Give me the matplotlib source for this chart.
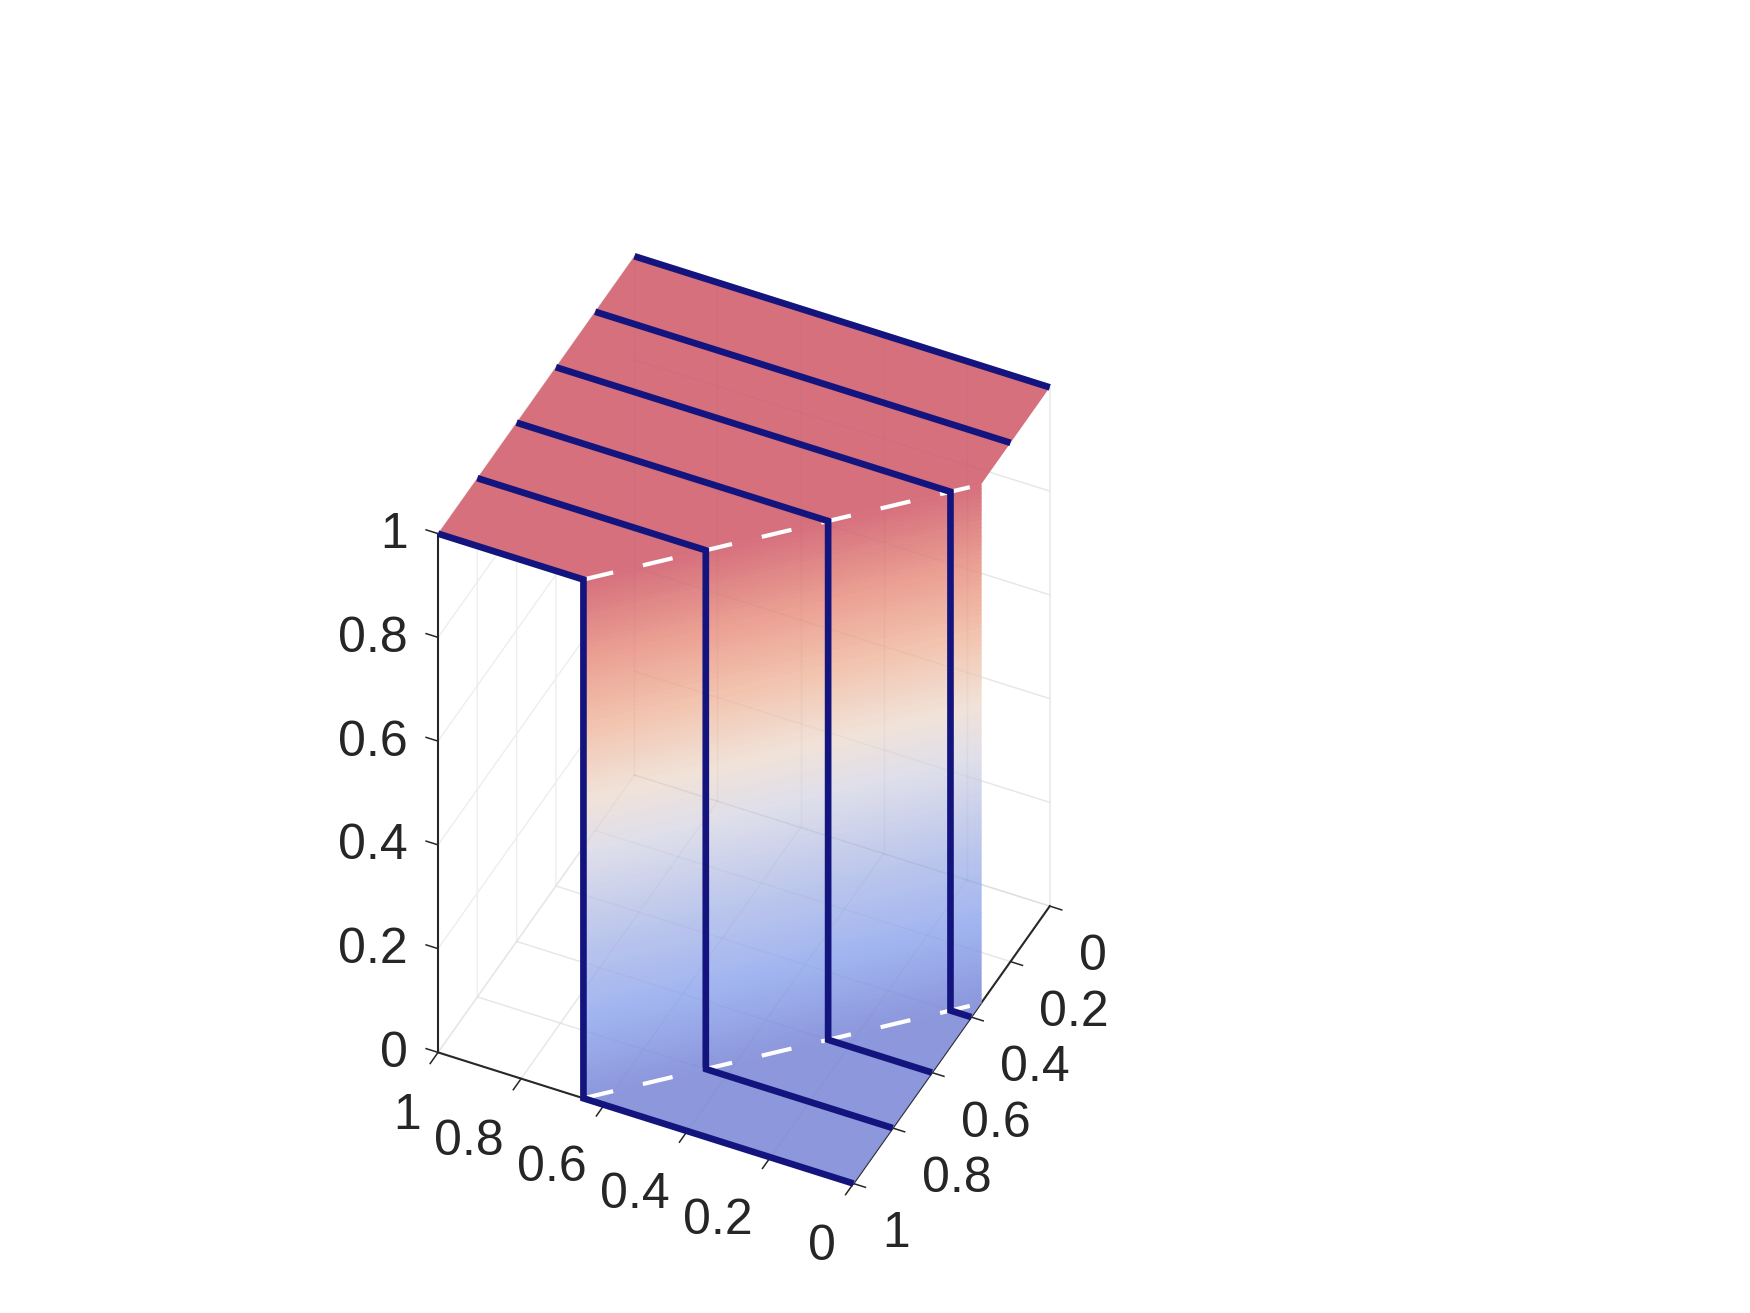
import numpy as np
import matplotlib
matplotlib.use("Agg")
import matplotlib.pyplot as plt
from matplotlib.colors import LinearSegmentedColormap
from mpl_toolkits.mplot3d.art3d import Poly3DCollection

plt.rcParams['font.family'] = ['Liberation Sans', 'DejaVu Sans']
plt.rcParams['lines.scale_dashes'] = False

# data
line_t = [0.0, 0.2, 0.4, 0.6, 0.8, 1.0]
line_shock_x = [None, None, 0.05, 0.25, 0.45, 0.65]
shock_x = [0.0, 0.65]
shock_t = [0.35, 1.0]
ticks = [0, 0.2, 0.4, 0.6, 0.8, 1]
tick_labels = ['0', '0.2', '0.4', '0.6', '0.8', '1']
color_levels = [0.0, 0.15, 0.3, 0.48, 0.58, 0.72, 0.85, 1.0]
color_values = ['#8C97DC', '#A0B4F0', '#BBC6EC', '#E0DFEA', '#F1E2D8', '#F2C3AE', '#EBA093', '#D6707D']

W, H = 1750, 1313
fig = plt.figure(figsize=(W/100, H/100), dpi=100, facecolor='white')
L = 1400
cx, cy = 743.9, 1313 - 719.9
left, bottom = cx - 0.5135*L, cy - 0.5135*L
ax = fig.add_axes([left/W, bottom/H, L/W, L/H], projection='3d', proj_type='ortho')
ax.computed_zorder = False
ax.set_box_aspect((1, 1, 1.517), zoom=925/L)
ax.view_init(elev=41.9, azim=115.3)
ax.set_xlim(0, 1); ax.set_ylim(0, 1); ax.set_zlim(0, 1)
ax.patch.set_alpha(0)

dark = '#262626'
cmap = LinearSegmentedColormap.from_list('cw', list(zip(color_levels, color_values)))

sx, st = shock_x, shock_t
top = [[(1, 0, 1), (0, 0, 1), (sx[0], st[0], 1), (sx[1], st[1], 1), (1, 1, 1)]]
floor = [[(sx[0], st[0], 0), (0, 1, 0), (sx[1], st[1], 0)]]
ax.add_collection3d(Poly3DCollection(top, facecolors=[cmap(1.0)], edgecolors='none', zorder=5))
ax.add_collection3d(Poly3DCollection(floor, facecolors=[cmap(0.0)], edgecolors='none', zorder=5))
edges = np.linspace(0, 1, 121)
quads = [[(sx[0], st[0], a), (sx[1], st[1], a), (sx[1], st[1], b), (sx[0], st[0], b)] for a, b in zip(edges[:-1], edges[1:])]
cols = [cmap((a+b)/2) for a, b in zip(edges[:-1], edges[1:])]
ax.add_collection3d(Poly3DCollection(quads, facecolors=cols, edgecolors=cols, linewidths=0.8, zorder=5))

# back-wall grid showing faintly through the translucent surface
see = dict(color='#606060', alpha=0.05, lw=1.0, zorder=5.5)
for v in ticks:
    ax.plot([v, v], [0, 0], [0, 1], **see)
    ax.plot([0, 1], [0, 0], [v, v], **see)
    ax.plot([v, v], [0, 1], [0, 0], **see)
    ax.plot([0, 1], [v, v], [0, 0], **see)

navy = '#14147F'
for t, s in zip(line_t, line_shock_x):
    if s is None:
        xs, ys, zs = [1, 0], [t, t], [1, 1]
    else:
        xs, ys, zs = [1, s, s, 0], [t, t, t, t], [1, 1, 0, 0]
    ax.plot(xs, ys, zs, color=navy, lw=4.8, solid_joinstyle='miter', solid_capstyle='butt', zorder=7)
for z in (1, 0):
    ax.plot(sx[::-1], st[::-1], [z, z], color='white', lw=3.0, dashes=(22, 22), dash_capstyle='butt', zorder=6)

for axis, inw, outw in ((ax.xaxis, 0.5, 0.0), (ax.yaxis, 0.36, 0.0), (ax.zaxis, 0.0, 0.36)):
    axis.set_pane_color((1, 1, 1, 1))
    axis.pane.set_edgecolor((1, 1, 1, 0))
    axis.line.set_color(dark)
    axis.line.set_linewidth(1.5)
    axis._axinfo['grid'].update(color='#EEEEEE', linewidth=1.0)
    axis._axinfo['tick'].update(inward_factor=inw, outward_factor=outw, linewidth={True: 1.1, False: 0.8}, color=dark)
ax.set_xticks(ticks); ax.set_xticklabels(tick_labels, ha='right')
ax.set_yticks(ticks); ax.set_yticklabels(tick_labels, ha='left')
ax.set_zticks(ticks); ax.set_zticklabels(tick_labels, ha='right')
ax.tick_params(labelsize=36, colors=dark, pad=8)
ax.zaxis.set_ticks_position('upper')
# z ticks point along the x direction; per-axis weights of the label offset
ax.zaxis._get_tickdir = lambda position: 0
ax.xaxis._axmask = lambda: np.array([0.0, 2.88, 1.02])
ax.yaxis._axmask = lambda: np.array([2.29, 0.0, 1.19])
ax.zaxis._axmask = lambda: np.array([2.92, -1.16, 0.0])
fig.savefig('out.png', dpi=100)
